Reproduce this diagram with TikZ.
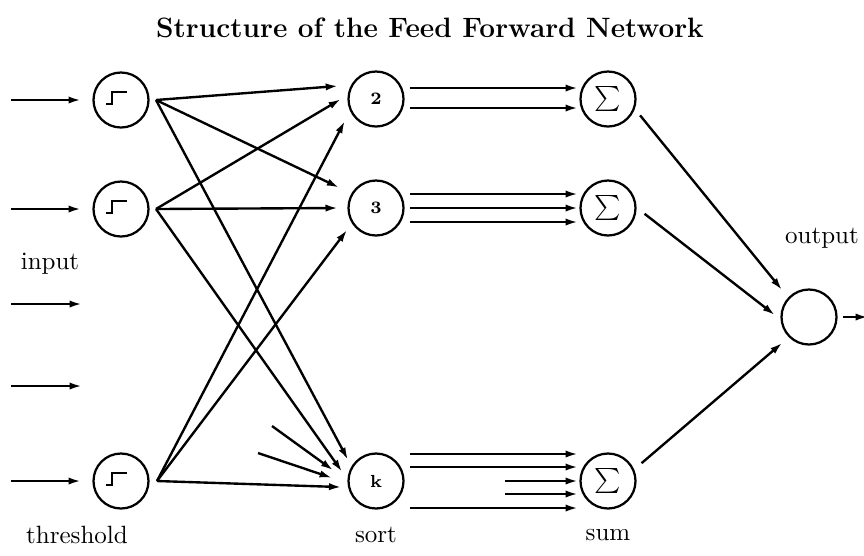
\documentclass[tikz,border=0pt]{standalone}
\usetikzlibrary{calc,arrows.meta}
\begin{document}
\begin{tikzpicture}[x=0.4pt,y=-0.4pt,
  unit/.style={circle,draw,line width=0.9pt,minimum size=22pt,inner sep=0pt},
  conn/.style={line width=0.95pt,-{Latex[length=5pt,width=2.9pt]}},
  plain/.style={line width=0.9pt},
  lbl/.style={font=\fontsize{10}{12}\selectfont},
  sortlbl/.style={font=\bfseries\fontsize{7}{8}\selectfont},
  sumlbl/.style={font=\fontsize{12.5}{14}\selectfont}]
\useasboundingbox (0,0) rectangle (864,555);
% title
\node[font=\bfseries\fontsize{11.2}{13}\selectfont] (title) at (430,28) {Structure of the Feed Forward Network};
% threshold units
\node[unit] (t1) at (121,100) {};
\node[unit] (t2) at (121,209) {};
\node[unit] (t3) at (121,481) {};
\foreach \t in {t1,t2,t3}{
  \draw[plain] ($(\t)+(-15,4)$) -- ++(6,0) -- ++(0,-12) -- ++(15,0);
}
% sort units
\node[unit,sortlbl] (s2) at (376,99) {2};
\node[unit,sortlbl] (s3) at (376,208) {3};
\node[unit,sortlbl] (k) at (376,481) {k};
% sum units
\node[unit,sumlbl] (u1) at (608,99) {$\sum$};
\node[unit,sumlbl] (u2) at (608,208) {$\sum$};
\node[unit,sumlbl] (u3) at (608,481) {$\sum$};
% output unit
\node[unit] (out) at (809,317) {};
% labels
\node[lbl] (linput) at (50,264) {input};
\node[lbl] (lthr) at (77,535) {threshold};
\node[lbl] (lsort) at (376,535) {sort};
\node[lbl] (lsum) at (608,535) {sum};
\node[lbl] (lout) at (822,238) {output};
% input arrows
\coordinate (in1) at (11,100);
\coordinate (in2) at (11,209);
\coordinate (in3) at (11,304);
\coordinate (in3e) at (82,304);
\coordinate (in4) at (11,386);
\coordinate (in4e) at (82,386);
\coordinate (in5) at (11,481);
\draw[conn] (in1) -- ($(t1)+(180:40)$);
\draw[conn] (in2) -- ($(t2)+(180:40)$);
\draw[conn] (in3) -- (in3e);
\draw[conn] (in4) -- (in4e);
\draw[conn] (in5) -- ($(t3)+(180:40)$);
% threshold outputs
\coordinate (t1o) at ($(t1)+(35,0)$);
\coordinate (t2o) at ($(t2)+(35,0)$);
\coordinate (t3o) at ($(t3)+(36,0)$);
\draw[conn] (t1o) -- ($(s2)+(199:40)$);
\draw[conn] (t1o) -- ($(s3)+(209:42)$);
\draw[conn] (t1o) -- ($(k)+(217:35)$);
\draw[conn] (t2o) -- ($(s2)+(180:35)$);
\draw[conn] (t2o) -- ($(s3)+(180:38)$);
\draw[conn] (t2o) -- ($(k)+(195:35)$);
\draw[conn] (t3o) -- ($(s2)+(145:38)$);
\draw[conn] (t3o) -- ($(s3)+(143:36)$);
\draw[conn] (t3o) -- ($(k)+(170:35)$);
\coordinate (st1) at (272,426);
\coordinate (st2) at (258,453);
\draw[conn] (st1) -- ($(k)+(194:44)$);
\draw[conn] (st2) -- ($(k)+(184:44)$);
% sort to sum
\draw[conn] ($(s2)+(34,-11)$) -- ($(u1)+(-30,-11)$);
\draw[conn] ($(s2)+(34,9)$) -- ($(u1)+(-30,9)$);
\draw[conn] ($(s3)+(34,-14)$) -- ($(u2)+(-30,-14)$);
\draw[conn] ($(s3)+(34,0)$) -- ($(u2)+(-30,0)$);
\draw[conn] ($(s3)+(34,14)$) -- ($(u2)+(-30,14)$);
\coordinate (ks3) at (505,481);
\coordinate (ks4) at (505,494);
\draw[conn] ($(k)+(34,-27)$) -- ($(u3)+(-30,-27)$);
\draw[conn] ($(k)+(34,-14)$) -- ($(u3)+(-30,-14)$);
\draw[conn] (ks3) -- ($(u3)+(-30,0)$);
\draw[conn] (ks4) -- ($(u3)+(-30,13)$);
\draw[conn] ($(k)+(34,27)$) -- ($(u3)+(-30,27)$);
% sum to output
\draw[conn] ($(u1)+(27:36)$) -- ($(out)+(225:38)$);
\draw[conn] ($(u2)+(9:37)$) -- ($(out)+(183:34)$);
\draw[conn] ($(u3)+(332:38)$) -- ($(out)+(136:37)$);
\coordinate (oend) at (868,317);
\draw[conn] ($(out)+(0:34)$) -- (oend);
\end{tikzpicture}
\end{document}
